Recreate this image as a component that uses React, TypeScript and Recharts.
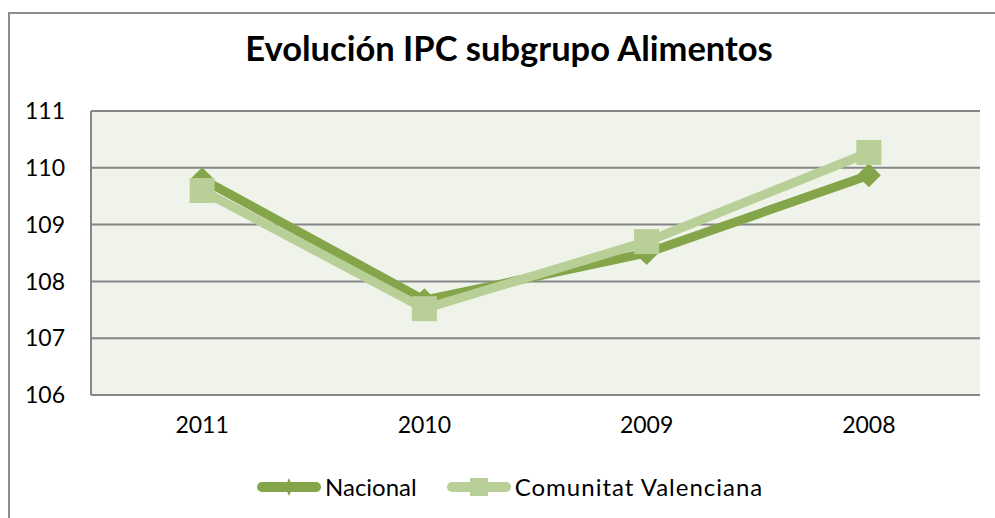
import { LineChart, Line, XAxis, YAxis, CartesianGrid } from 'recharts'

const years = ['2011', '2010', '2009', '2008']
const nacional = [109.8, 107.67, 108.5, 109.87]
const comunitat = [109.6, 107.52, 108.7, 110.27]
const yTicks = [106, 107, 108, 109, 110, 111]

const seriesNames = { nacional: 'Nacional', comunitat: 'Comunitat Valenciana' }

const data = years.map((y, i) => ({ year: y, nacional: nacional[i], comunitat: comunitat[i] }))

const DARK = '#84a54a'
const LIGHT = '#b8cf97'
const FONT = 'Lato, Carlito, Calibri, sans-serif'

const Diamond = (props: any) => {
  const { cx, cy } = props
  if (cx == null || cy == null) return null
  return <path d={`M${cx},${cy - 12} L${cx + 12},${cy} L${cx},${cy + 12} L${cx - 12},${cy} Z`} fill={DARK} />
}

const Square = (props: any) => {
  const { cx, cy } = props
  if (cx == null || cy == null) return null
  return <rect x={cx - 12.5} y={cy - 12.5} width={25} height={25} fill={LIGHT} />
}

const ChartLegend = () => (
  <div style={{ position: 'absolute', left: 255, top: 472, display: 'flex', alignItems: 'center', fontFamily: FONT, fontSize: 24, color: '#000' }}>
    <svg width={66} height={22} style={{ marginRight: 4 }}>
      <line x1={7} y1={11} x2={61} y2={11} stroke={DARK} strokeWidth={10} strokeLinecap="round" />
      <path d="M34,2 L38,11 L34,20 L30,11 Z" fill={DARK} />
    </svg>
    <span>{seriesNames.nacional}</span>
    <svg width={66} height={22} style={{ marginLeft: 28, marginRight: 4 }}>
      <line x1={7} y1={11} x2={61} y2={11} stroke={LIGHT} strokeWidth={10} strokeLinecap="round" />
      <rect x={25} y={2} width={18} height={18} fill={LIGHT} />
    </svg>
    <span style={{ letterSpacing: 1 }}>{seriesNames.comunitat}</span>
  </div>
)

export default function App() {
  return (
    <div style={{ position: 'fixed', left: 0, top: 0, width: 995, height: 518, overflow: 'hidden', background: '#fff' }}>
      <div style={{ position: 'absolute', left: 8, top: 12, width: 1000, height: 520, border: '2px solid #8c8c8c', boxSizing: 'border-box' }} />
      <div style={{ position: 'absolute', left: 0, top: 27, width: 1018, textAlign: 'center', fontFamily: FONT, fontWeight: 700, fontSize: 34.5, color: '#000' }}>
        Evolución IPC subgrupo Alimentos
      </div>
      <div style={{ position: 'absolute', left: 0, top: 0 }}>
        <LineChart width={995} height={518} data={data} margin={{ top: 111, right: 15, bottom: 83, left: 21 }}>
          <CartesianGrid vertical={false} fill="#eff3ea" stroke="#868686" strokeWidth={2} />
          <XAxis dataKey="year" scale="band" axisLine={{ stroke: '#868686', strokeWidth: 2 }} tickLine={false} tickSize={0} tickMargin={22} height={40}
            tick={{ fill: '#000', fontSize: 23, fontFamily: FONT }} />
          <YAxis domain={[106, 111]} ticks={yTicks} width={70} axisLine={{ stroke: '#868686', strokeWidth: 2 }} tickLine={false} tickSize={0} tickMargin={26}
            tick={{ fill: '#000', fontSize: 23, fontFamily: FONT }} />
          <Line dataKey="nacional" name={seriesNames.nacional} stroke={DARK} strokeWidth={9} dot={<Diamond />} activeDot={false} isAnimationActive={false} />
          <Line dataKey="comunitat" name={seriesNames.comunitat} stroke={LIGHT} strokeWidth={9} dot={<Square />} activeDot={false} isAnimationActive={false} />
        </LineChart>
      </div>
      <ChartLegend />
    </div>
  )
}
